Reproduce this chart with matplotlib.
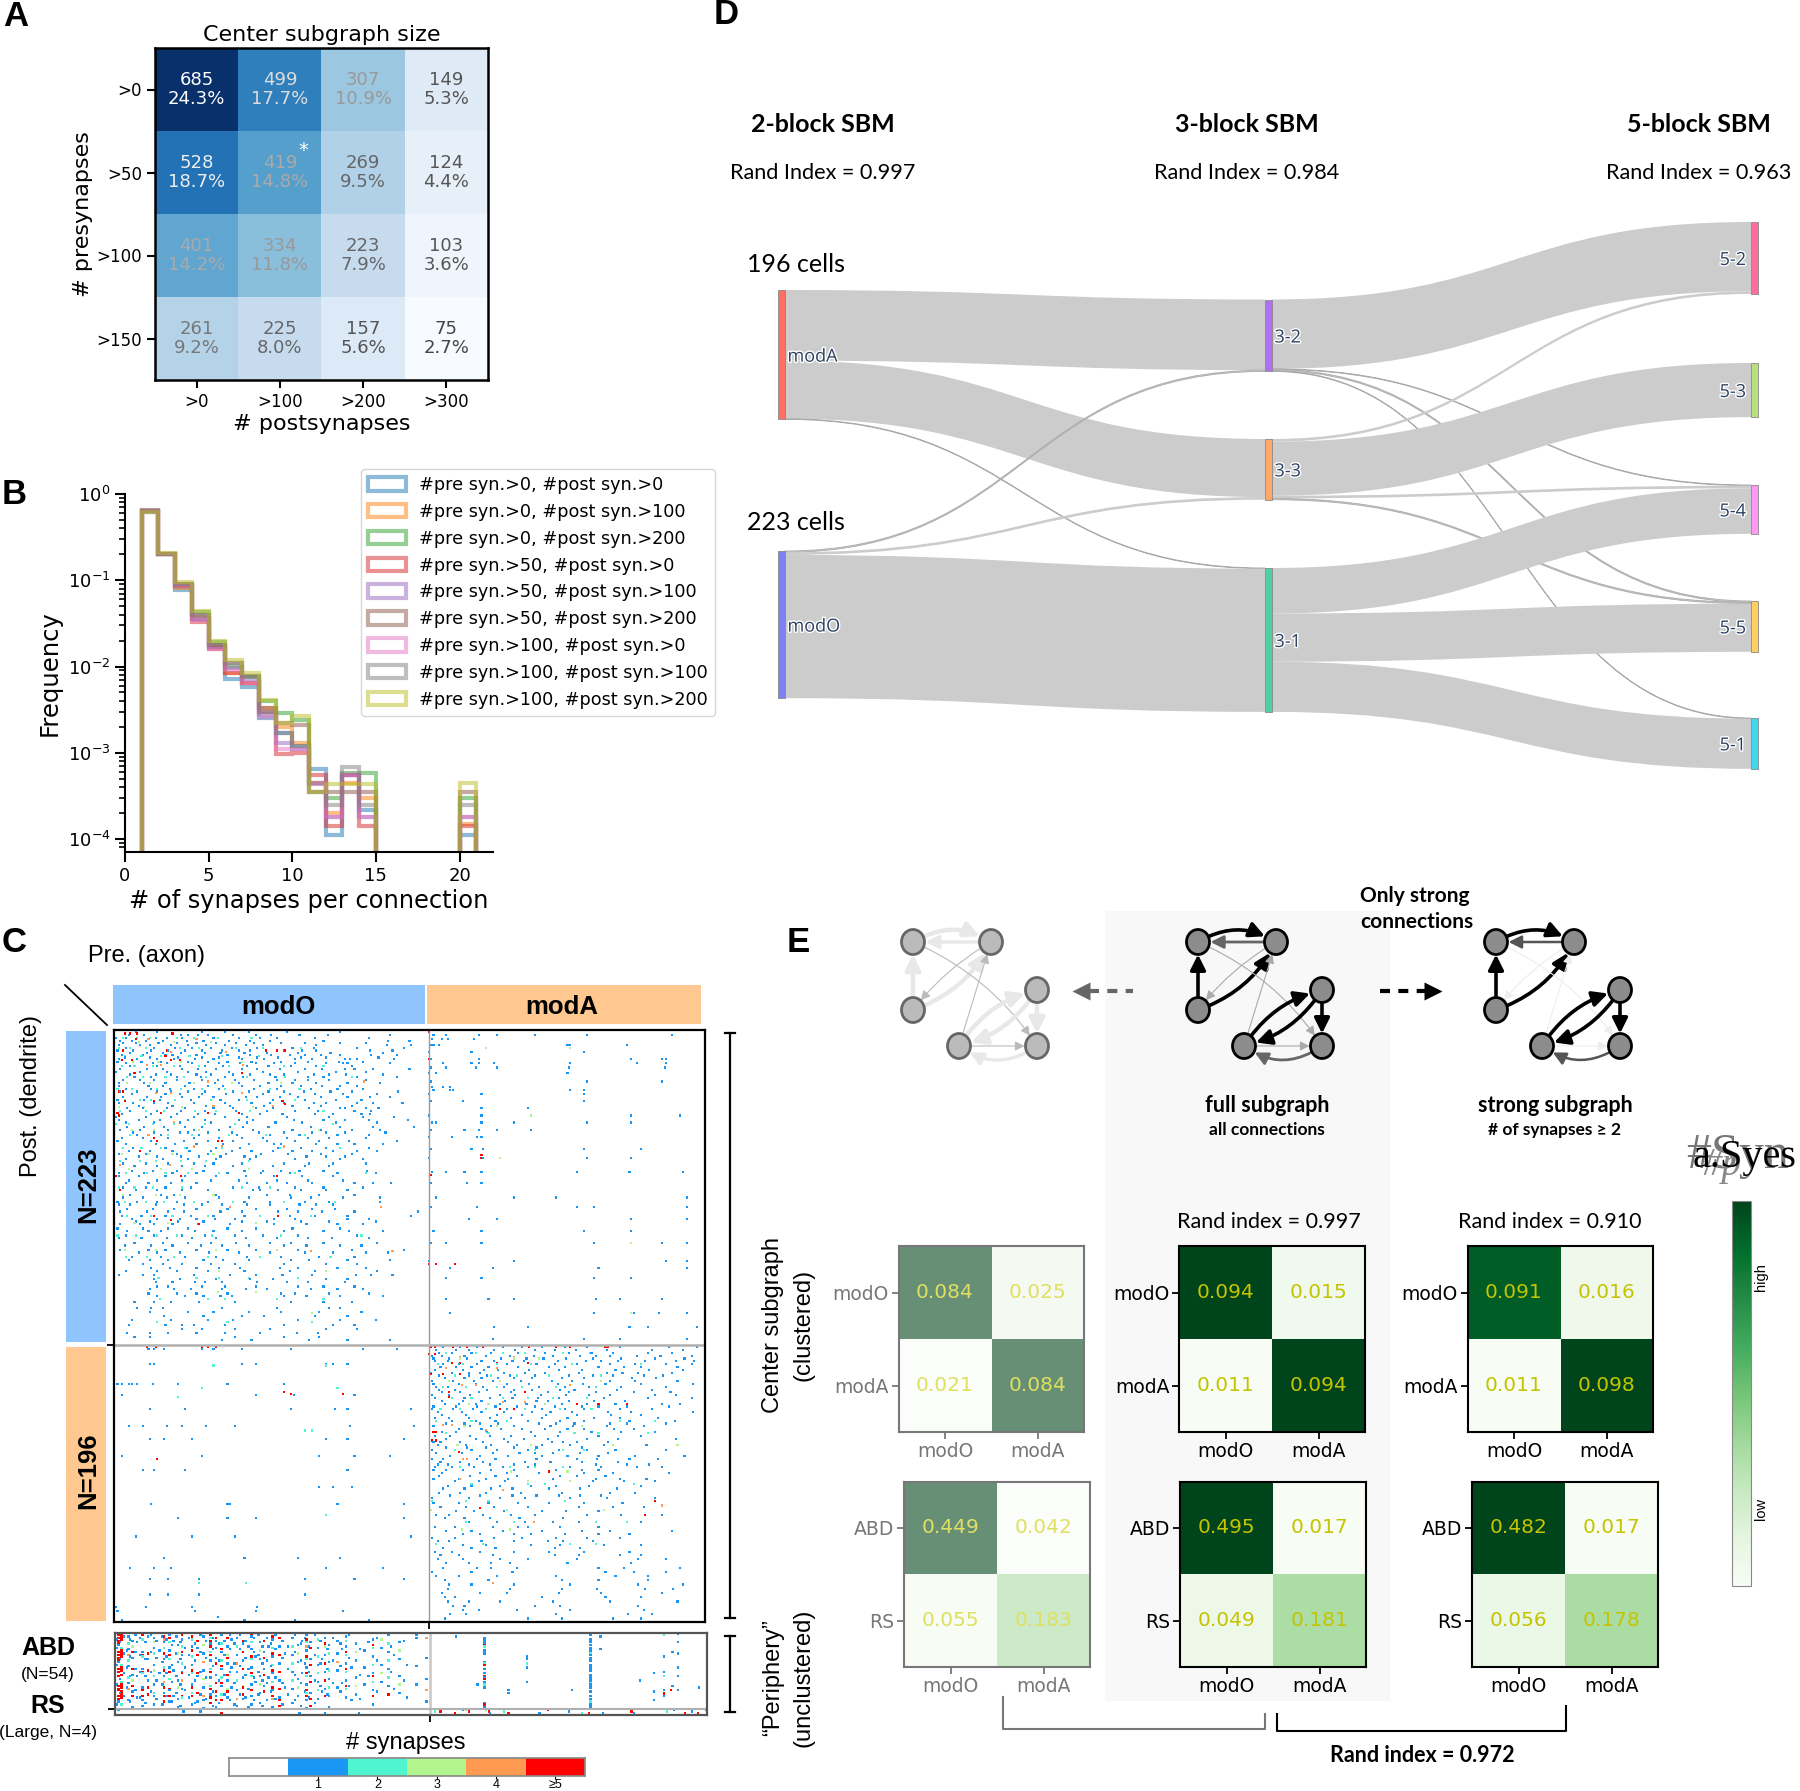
import numpy as np
import matplotlib as mpl
mpl.use('Agg')
import matplotlib.pyplot as plt
import matplotlib.patheffects as pe
from matplotlib.colors import ListedColormap, Normalize
from matplotlib.cm import ScalarMappable
from matplotlib.patches import FancyArrowPatch, Ellipse, PathPatch, Rectangle, Patch
from matplotlib.path import Path

W, H = 1800, 1791
SANS = 'Liberation Sans'
HEAD = 'Lato'

# ---- panel A
A_COUNTS = [[685, 499, 307, 149], [528, 419, 269, 124], [401, 334, 223, 103], [261, 225, 157, 75]]
A_PCT = [['24.3%', '17.7%', '10.9%', '5.3%'], ['18.7%', '14.8%', '9.5%', '4.4%'],
         ['14.2%', '11.8%', '7.9%', '3.6%'], ['9.2%', '8.0%', '5.6%', '2.7%']]
A_POST = ['>0', '>100', '>200', '>300']
A_PRE = ['>0', '>50', '>100', '>150']

# ---- panel B
B_EDGES = list(range(1, 22))
B_LABELS = ['#pre syn.>0, #post syn.>0', '#pre syn.>0, #post syn.>100', '#pre syn.>0, #post syn.>200',
            '#pre syn.>50, #post syn.>0', '#pre syn.>50, #post syn.>100', '#pre syn.>50, #post syn.>200',
            '#pre syn.>100, #post syn.>0', '#pre syn.>100, #post syn.>100', '#pre syn.>100, #post syn.>200']
B_S1 = [.62, .2, .078, .036, .017, .0072, .0058, .0025, .0017, .0012, .00065, .00011, .00055, .00022, 0, 0, 0, 0, 0, .00011]
B_S2 = [.63, .2, .082, .038, .018, .0085, .0065, .0033, .002, .0013, .00045, .0002, .00045, .0003, 0, 0, 0, 0, 0, .00015]
B_S3 = [.64, .2, .085, .043, .019, .01, .0075, .004, .0029, .0024, .00045, .0003, .00058, .00058, 0, 0, 0, 0, 0, .0003]
B_S4 = [.63, .2, .085, .033, .016, .0085, .0065, .003, .00097, .001, .00055, .00014, .00055, .00014, 0, 0, 0, 0, 0, .00014]
B_S5 = [.64, .2, .09, .036, .017, .0095, .007, .0028, .0013, .0011, .00043, .00018, .00055, .00018, 0, 0, 0, 0, 0, .00018]
B_S6 = [.65, .2, .09, .04, .018, .011, .0078, .0033, .0022, .0021, .00035, .00035, .00035, .00035, 0, 0, 0, 0, 0, .00035]
B_S7 = [.63, .2, .085, .035, .016, .009, .0065, .0026, .0011, .0011, .00045, .00018, .00055, .00018, 0, 0, 0, 0, 0, .00018]
B_S8 = [.64, .2, .09, .04, .018, .011, .0078, .003, .0017, .0012, .00035, .00025, .00068, .00025, 0, 0, 0, 0, 0, .00025]
B_S9 = [.62, .205, .095, .044, .02, .012, .0085, .0041, .0022, .0027, .00035, .00043, .00043, .00043, 0, 0, 0, 0, 0, .00045]

# ---- panel C, connections: {row: [cols]}, one dict per synapse count
N_O, N_A = 223, 196
TL_1 = {3: [10, 21, 47, 52, 59, 66, 84, 100, 111, 131, 151, 195], 7: [4, 12, 22, 34, 51, 63, 81, 96, 110, 148, 194, 209],
        10: [3, 18, 25, 40, 52, 65, 78, 93, 105, 143, 193, 210], 14: [2, 13, 26, 38, 50, 62, 76, 88, 96, 120, 133, 143, 181, 197],
        17: [5, 20, 36, 41, 58, 80, 96, 111, 124, 135, 146, 160, 182, 200], 20: [3, 16, 30, 42, 57, 70, 90, 106, 128, 140, 163, 167, 172, 198],
        23: [8, 27, 37, 55, 74, 89, 100, 113, 128, 150, 162, 165, 195], 27: [4, 23, 34, 48, 59, 72, 90, 101, 117, 135, 147, 163, 170, 183, 209],
        31: [11, 29, 40, 58, 68, 84, 96, 110, 120, 141, 152, 164, 190], 35: [6, 18, 28, 44, 62, 73, 85, 99, 115, 128, 137, 152, 178],
        39: [3, 24, 34, 50, 66, 77, 90, 103, 118, 132, 147, 160, 172], 43: [4, 16, 30, 40, 52, 64, 84, 95, 109, 120, 134, 153, 168, 201],
        47: [6, 23, 33, 48, 60, 70, 93, 101, 117, 130, 146, 165, 181, 195], 51: [3, 13, 28, 38, 56, 78, 97, 110, 120, 141, 150, 172, 183, 204],
        55: [9, 20, 37, 50, 70, 84, 100, 112, 138, 160, 163, 178, 187], 59: [5, 26, 44, 59, 71, 90, 103, 119, 142, 155, 175, 181],
        63: [3, 17, 32, 52, 64, 88, 98, 127, 148, 163, 180, 208], 68: [9, 21, 35, 50, 62, 82, 91, 109, 139, 160, 183, 212],
        72: [13, 28, 46, 52, 66, 83, 102, 120, 140, 150, 163, 192], 76: [5, 20, 38, 56, 74, 90, 105, 122, 137, 152, 178],
        80: [8, 29, 43, 58, 77, 95, 113, 118, 143, 158, 170, 190], 85: [10, 25, 41, 53, 68, 83, 97, 112, 126, 140, 155, 172, 186],
        89: [17, 30, 47, 60, 75, 92, 100, 136, 150, 163], 94: [6, 22, 38, 56, 70, 90, 120, 138, 155, 178],
        99: [12, 27, 44, 63, 92, 105, 118, 131, 148, 179], 103: [3, 17, 36, 50, 72, 93, 113, 133, 155],
        108: [8, 24, 40, 58, 94, 108, 122, 140, 170, 183, 196], 113: [15, 30, 48, 66, 98, 103, 116, 132, 150, 165],
        118: [6, 20, 37, 50, 74, 95, 125, 139, 162, 188], 123: [3, 11, 29, 49, 62, 76, 94, 110, 131, 143, 155],
        128: [4, 23, 38, 49, 75, 90, 116, 130, 147, 170, 215], 133: [12, 30, 46, 58, 71, 85, 113, 128, 165, 180],
        137: [4, 18, 28, 41, 59, 82, 113, 136, 158, 176], 142: [9, 24, 33, 57, 70, 90, 120, 148, 166, 190],
        147: [3, 19, 37, 55, 72, 93, 115, 137, 154, 180], 152: [7, 26, 41, 61, 76, 95, 120, 136, 160, 175],
        157: [17, 30, 46, 67, 88, 110, 135, 155, 178, 194], 162: [10, 25, 38, 63, 77, 95, 125, 138, 165, 195],
        168: [26, 39, 58, 74, 89, 117, 130, 158, 178], 173: [3, 20, 28, 56, 82, 100, 119, 140, 171, 182, 197],
        178: [29, 41, 57, 64, 76, 101, 122, 137, 163], 183: [25, 42, 54, 76, 93, 108, 139, 158, 176],
        188: [30, 50, 63, 75, 83, 120, 136, 160, 190], 196: [16, 26, 34, 76, 115, 152, 160], 202: [35, 63, 90, 106, 142, 165],
        208: [10, 36, 48, 56, 78, 120, 155, 170], 214: [9, 25, 38, 58, 78, 103, 129, 144], 219: [76, 97, 138, 165, 195]}
TL_1X = {1: [15, 30, 62, 78, 95, 122, 160], 5: [1, 8, 29, 37, 48, 70, 88, 103, 115, 142, 180], 9: [6, 15, 31, 44, 58, 72, 86, 99, 118, 135, 160, 178],
         12: [8, 28, 43, 55, 68, 83, 101, 126, 141, 172, 205], 16: [11, 23, 34, 47, 64, 75, 92, 108, 130, 153, 190], 19: [7, 25, 45, 62, 74, 88, 101, 116, 132, 150, 187],
         22: [2, 19, 33, 52, 66, 80, 97, 118, 137, 159, 176], 25: [11, 30, 46, 64, 77, 94, 109, 125, 143, 168], 29: [1, 18, 37, 52, 65, 81, 105, 130, 157, 178],
         33: [14, 26, 44, 61, 78, 91, 114, 137, 148, 172, 200], 37: [3, 21, 36, 53, 71, 88, 109, 126, 143, 165, 188], 41: [8, 26, 39, 56, 74, 99, 115, 139, 158, 176],
         45: [12, 36, 46, 62, 79, 105, 124, 142, 162, 186], 49: [2, 21, 32, 54, 75, 88, 112, 135, 157, 175], 53: [17, 41, 65, 82, 106, 126, 146, 168],
         57: [11, 30, 47, 64, 86, 108, 128, 144, 170, 182], 61: [1, 22, 40, 56, 78, 94, 122, 152, 176, 198], 65: [8, 28, 46, 68, 94, 114, 133, 157, 186],
         70: [4, 18, 38, 56, 74, 98, 126, 146, 168, 188], 74: [16, 33, 60, 87, 110, 131, 158, 180], 78: [2, 26, 49, 66, 84, 108, 128, 145, 166, 200],
         83: [13, 36, 51, 72, 89, 116, 132, 150, 180], 87: [3, 22, 44, 66, 79, 104, 123, 146, 168], 91: [8, 34, 52, 72, 96, 128, 160, 176],
         96: [14, 30, 48, 64, 84, 112, 135, 152], 101: [3, 21, 41, 58, 80, 104, 124, 158, 185], 106: [10, 30, 48, 68, 88, 115, 137, 162],
         111: [6, 22, 36, 54, 84, 102, 128, 148, 176], 116: [11, 33, 42, 72, 108, 124, 145, 170], 121: [2, 16, 30, 44, 66, 92, 110, 135, 152, 188],
         126: [9, 27, 42, 58, 80, 100, 122, 140, 156], 131: [5, 19, 36, 54, 70, 92, 124, 142, 165, 210], 135: [15, 25, 45, 63, 90, 108, 132, 152, 185],
         140: [2, 20, 38, 52, 80, 100, 126, 160], 145: [8, 28, 48, 64, 85, 105, 130, 172], 150: [14, 34, 52, 68, 86, 110, 125, 148, 186],
         155: [4, 24, 36, 58, 80, 100, 130, 168, 205], 160: [12, 33, 50, 72, 94, 118, 145, 170], 165: [20, 34, 48, 68, 85, 120, 150, 172],
         170: [8, 30, 44, 66, 92, 124, 142, 186], 176: [28, 46, 72, 96, 112, 150, 165], 181: [30, 38, 62, 78, 100, 130, 148, 170],
         186: [24, 44, 58, 80, 118, 128, 152, 180], 192: [14, 28, 40, 60, 85, 125, 148, 168], 199: [25, 52, 70, 95, 118, 145, 175],
         205: [12, 40, 66, 84, 130, 160, 185], 211: [48, 62, 85, 110, 150, 172], 217: [14, 25, 85, 120, 145]}
TL_2 = {5: [6, 16, 25, 44, 56, 73, 97], 12: [3, 11, 22, 46, 60, 86, 105, 132], 18: [7, 19, 33, 53, 76, 102],
        25: [5, 14, 27, 42, 60, 81, 120, 148], 33: [9, 20, 36, 49, 65, 94, 121, 168], 41: [2, 12, 30, 47, 62, 78, 110, 131],
        49: [7, 18, 26, 43, 68, 94, 128], 57: [4, 22, 35, 57, 72, 96, 148], 66: [1, 10, 27, 42, 64, 85, 155],
        74: [11, 24, 38, 55, 81, 107, 135], 83: [6, 19, 33, 50, 76, 117, 160], 92: [4, 18, 29, 47, 65, 95],
        101: [8, 23, 36, 52, 74, 128, 178], 111: [3, 14, 27, 48, 90, 110], 121: [7, 22, 35, 56, 84, 120, 156],
        131: [9, 26, 41, 66, 103, 139], 145: [2, 15, 30, 44, 69, 118, 175], 160: [8, 23, 42, 66, 103, 153],
        175: [31, 58, 74, 95, 130], 190: [32, 66, 78, 115, 148], 206: [30, 80, 140]}
TL_3 = {8: [17, 42, 68], 22: [13, 31, 47, 90], 37: [9, 25, 56, 83, 118], 54: [3, 21, 48, 98], 70: [12, 28, 60, 145],
        87: [5, 24, 41, 70], 98: [10, 33, 55, 95], 116: [6, 29, 46, 70], 136: [14, 38, 100], 155: [7, 29, 72, 115],
        170: [74, 150], 185: [73, 100], 200: [140]}
TL_4 = {6: [24, 58], 15: [40, 79], 24: [23, 33, 91], 36: [66, 177], 44: [29, 40, 90], 53: [70, 112], 65: [42], 74: [24],
        82: [56, 76, 120], 95: [4, 39], 125: [82, 189], 156: [139, 197]}
TL_5 = {2: [7, 11, 16, 41], 6: [15], 14: [6, 37, 107, 115, 121], 18: [36], 21: [5, 12, 40, 46], 30: [14, 90], 43: [3, 6],
        50: [7, 28, 119], 52: [121], 58: [2, 33, 66, 88], 60: [3], 76: [28], 78: [30, 73, 76], 85: [18], 103: [1, 47, 115],
        113: [4], 131: [28, 116], 134: [40], 137: [60]}
TR_1 = {3: [3, 12, 35, 48, 75, 112, 172], 6: [2, 9, 13, 32], 10: [1, 3, 7, 98, 100, 140], 15: [0, 30, 110], 20: [1, 35, 143, 165, 168],
        23: [10, 30, 35, 46, 100, 147, 168], 26: [1, 12, 33, 48, 99, 167], 30: [0, 5, 98], 36: [1, 112, 165], 40: [2, 10, 15],
        42: [3, 15, 17, 100, 110], 45: [0, 37, 110], 50: [1, 24, 110], 55: [37, 70], 60: [0, 37, 143, 178], 65: [2, 5, 37, 60, 112, 143],
        70: [1, 25, 35, 48, 72], 75: [0, 16, 34, 37], 84: [1, 30, 38, 110, 150], 90: [0, 38, 112, 143], 100: [2, 12, 25, 37, 105, 142, 180],
        108: [1, 27, 37], 118: [5, 60, 90, 183], 125: [1, 34, 105, 117, 183], 133: [28, 48, 143, 183], 142: [3, 37, 110, 143],
        150: [1, 12, 37, 117, 143, 165, 183], 163: [0, 60, 168, 183], 168: [15, 45, 120, 183], 175: [12, 37, 117, 143], 190: [12, 42, 60, 118, 135, 165],
        200: [15, 117, 145, 163, 183], 210: [46, 70, 142, 155, 190], 218: [45, 110, 135, 183]}
TR_3 = {12: [40, 100], 60: [72], 90: [50], 150: [143], 200: [143]}
TR_5 = {1: [0], 20: [0], 88: [37], 90: [37], 165: [0, 18, 5], 102: [1]}
BL_1 = {2: [24, 28, 35, 62, 70, 90, 125, 176, 200], 13: [25, 28, 90, 100, 150, 165, 155], 27: [2, 5, 10, 12, 16, 27, 45, 80, 120], 35: [5, 100, 127, 170],
        45: [25, 50, 125, 156, 165, 210], 57: [10, 20, 37, 48, 65, 85, 167, 212], 66: [25, 35, 55, 150, 165, 205], 78: [5, 62, 145, 170, 195],
        88: [20, 28, 50, 165], 100: [145, 155, 168], 112: [26, 80, 82, 158, 205], 122: [45, 80, 100, 205], 135: [15, 55, 85, 210], 150: [35, 92, 130, 160],
        157: [11, 28, 40, 150, 190], 165: [25, 38, 60, 135, 170, 205], 176: [25, 38, 60, 135], 185: [1, 22, 55, 101], 188: [2, 57, 100, 162], 194: [5, 92, 128, 180], 192: [73]}
BL_2 = {14: [70, 150], 30: [62, 158], 36: [45], 60: [135, 140], 120: [150], 168: [60, 93]}
BL_5 = {1: [23, 29, 62, 66, 72], 33: [120], 34: [125, 162], 80: [30]}
BR_1 = {3: [5, 19, 28, 46, 61, 75, 89, 104, 126, 158, 180], 7: [2, 9, 25, 40, 57, 74, 88, 107, 118, 128, 147, 164, 186],
        11: [4, 13, 37, 46, 59, 67, 91, 111, 122, 134, 153, 175, 188], 15: [8, 19, 30, 42, 63, 85, 96, 120, 138, 150, 176],
        19: [1, 16, 28, 36, 53, 68, 82, 106, 126, 137, 148, 172], 23: [11, 25, 37, 49, 60, 73, 94, 110, 144, 161],
        27: [3, 21, 33, 55, 71, 91, 109, 125, 150, 187], 31: [7, 18, 41, 60, 73, 93, 103, 133, 158],
        35: [2, 14, 29, 50, 61, 79, 97, 113, 128, 160, 175], 39: [9, 24, 37, 54, 76, 84, 99, 117, 139],
        43: [3, 19, 34, 47, 62, 75, 89, 108, 120, 140, 170], 47: [6, 23, 37, 53, 73, 86, 101, 127, 143, 187],
        51: [4, 14, 28, 43, 58, 80, 98, 117, 135, 162], 55: [12, 25, 36, 49, 78, 90, 103, 128, 140, 168],
        59: [21, 37, 51, 66, 82, 98, 110, 131, 145], 64: [4, 15, 29, 43, 58, 75, 91, 120, 150], 68: [3, 8, 22, 38, 56, 87, 95, 105, 127],
        72: [12, 27, 40, 60, 76, 108], 76: [5, 23, 45, 64, 75, 88, 107, 127], 80: [2, 10, 34, 47, 76, 105, 119, 142, 162],
        84: [6, 13, 28, 43, 60, 75, 118, 140, 156], 88: [3, 12, 24, 44, 60, 90, 108, 120], 92: [7, 29, 47, 62, 93, 105, 125],
        96: [18, 35, 54, 70, 100, 116, 138, 160], 101: [10, 25, 44, 59, 85, 107, 133], 106: [15, 36, 59, 76, 92, 107, 122],
        111: [3, 21, 42, 63, 85, 110, 137], 117: [19, 32, 53, 80, 97, 120], 122: [11, 25, 43, 64, 95], 128: [4, 18, 45, 63, 70, 93, 120],
        133: [24, 36, 60, 72, 96, 120, 142], 138: [6, 14, 37, 60, 84, 95, 116], 143: [10, 30, 47, 89, 107], 148: [8, 21, 45, 89, 106, 135, 150],
        154: [12, 28, 44, 57, 98, 143], 160: [2, 30, 59, 125, 145, 168], 166: [11, 42, 94, 120, 155], 172: [13, 57, 94, 119, 153, 173],
        178: [11, 18, 80, 125, 150], 184: [17, 25, 75, 93, 148], 190: [15, 26, 90, 141, 158]}
BR_1X = {1: [10, 22, 34, 52, 66, 80, 96, 112, 135, 170, 190], 5: [7, 16, 30, 44, 63, 82, 99, 115, 130, 155, 172], 9: [3, 14, 27, 51, 69, 81, 97, 116, 136, 160, 181],
         13: [10, 21, 34, 55, 76, 89, 105, 128, 146, 168, 186], 17: [4, 24, 39, 49, 71, 92, 108, 132, 156, 180], 21: [7, 28, 41, 57, 75, 99, 116, 130, 152, 166],
         25: [2, 17, 32, 45, 65, 87, 101, 128, 146, 176], 29: [5, 13, 38, 53, 78, 96, 113, 136, 168], 33: [9, 22, 35, 58, 84, 99, 118, 145, 171],
         37: [4, 25, 43, 59, 77, 92, 124, 155, 186], 41: [11, 21, 33, 50, 69, 94, 112, 132, 165, 178], 45: [2, 17, 31, 55, 80, 96, 110, 135, 158],
         49: [9, 26, 48, 66, 83, 105, 129, 150], 53: [16, 33, 47, 70, 93, 110, 142, 174], 57: [3, 29, 44, 60, 86, 102, 126, 152], 61: [9, 19, 41, 72, 93, 115, 136, 160],
         66: [12, 33, 53, 67, 84, 112, 134, 175], 70: [6, 26, 44, 62, 80, 100, 124, 154], 74: [2, 30, 48, 70, 92, 112, 132, 168], 78: [15, 36, 56, 80, 98, 120, 146, 181],
         82: [8, 22, 38, 68, 86, 108, 134], 86: [4, 16, 32, 52, 70, 100, 122, 147, 165], 90: [9, 36, 55, 78, 110, 130, 170], 94: [3, 21, 40, 56, 88, 118, 135, 154],
         99: [13, 30, 50, 72, 90, 113, 150], 104: [7, 22, 40, 65, 94, 128, 146], 108: [2, 28, 50, 68, 100, 126, 160], 114: [8, 26, 46, 70, 106, 130, 152],
         120: [5, 14, 38, 58, 75, 112, 136, 165], 125: [28, 48, 68, 88, 106, 150], 131: [12, 30, 52, 80, 108, 128, 172], 136: [2, 18, 46, 66, 90, 112, 135],
         141: [24, 40, 72, 93, 124, 150], 146: [4, 16, 36, 60, 85, 110, 142], 151: [6, 24, 50, 70, 105, 148, 168], 157: [10, 34, 44, 62, 120, 138, 178],
         163: [5, 21, 48, 90, 132, 155], 169: [14, 30, 60, 100, 148, 180], 175: [9, 36, 55, 92, 122, 165], 181: [13, 28, 50, 88, 128, 176], 187: [24, 35, 62, 100, 152], 193: [11, 70, 94, 130, 150]}
BR_2 = {5: [12, 33, 52, 68, 95, 114], 13: [6, 24, 48, 72, 101, 150], 21: [18, 44, 62, 85, 122], 29: [10, 26, 48, 66, 90, 118],
        37: [16, 30, 52, 70, 88, 112], 45: [8, 22, 40, 68, 93, 115], 53: [5, 30, 55, 135, 160], 62: [12, 42, 103, 120, 155],
        74: [18, 75, 95, 110], 86: [22, 57, 75, 95], 98: [30, 70, 82, 145], 110: [2, 26, 42, 96], 125: [26, 60, 118, 140], 140: [5, 38, 100, 118]}
BR_3 = {9: [22, 60, 78], 25: [14, 50, 122], 41: [28, 42, 82], 57: [25, 48, 108], 70: [20, 72, 130, 176], 89: [58, 98], 96: [70, 100], 116: [1, 55, 124], 130: [23, 57]}
BR_4 = {8: [22, 60], 16: [12, 48], 28: [23, 33, 100], 40: [52, 68], 56: [10, 16], 60: [40], 80: [24, 27], 94: [22], 102: [52], 113: [165], 125: [74], 168: [45]}
BR_5 = {1: [1, 4, 17, 27, 38, 71, 90, 100, 125, 127], 6: [0, 4], 12: [16, 22, 48, 70], 20: [1, 10, 22], 33: [14, 68], 36: [14], 41: [105, 120, 140], 45: [50, 60],
        61: [3, 5], 67: [2, 5], 75: [21], 89: [85], 110: [160], 115: [36], 120: [153]}

# periphery, {col: [rows]} since this block shows as columns
PERI_1 = {2: [8, 20, 48], 9: [2, 11, 23, 35, 47], 12: [5, 17, 29, 41, 52], 19: [13, 25, 38, 47, 51], 27: [3, 10, 22, 36, 44, 50], 34: [6, 18, 30, 42],
          38: [1, 12, 24, 40, 48], 44: [8, 20, 33, 46, 52], 47: [4, 15, 27, 39], 54: [9, 22, 36, 50], 62: [2, 14, 26, 38, 47, 53], 67: [7, 19, 31, 43],
          71: [5, 10, 17, 29, 44, 52], 75: [1, 13, 25, 37], 79: [9, 21, 33, 45], 86: [3, 15, 27, 40, 51], 90: [7, 19, 31, 46], 96: [2, 11, 24, 36, 44, 50],
          102: [6, 18, 30, 42, 49], 105: [13, 25, 37], 111: [4, 16, 28, 40, 52], 116: [9, 21, 33, 45], 125: [3, 15, 27, 39, 49], 129: [8, 20, 32, 44],
          135: [1, 12, 24, 36, 47, 53], 138: [6, 18, 30, 42], 143: [10, 22, 34, 46], 148: [3, 15, 27, 39], 151: [8, 20, 32, 44, 52], 157: [5, 14, 26, 38],
          163: [2, 9, 21, 33, 45], 170: [7, 19, 31, 43], 176: [12, 24, 36], 182: [4, 16, 28, 40, 50], 188: [10, 22, 34], 193: [1, 13, 25, 37], 201: [6, 18, 30, 42],
          213: [1, 3, 23, 36], 220: [17, 32, 48], 15: [6, 30, 45], 23: [2, 18, 33], 31: [12, 28], 41: [5, 26, 44], 58: [10, 30, 48], 82: [4, 24, 38], 99: [16, 34],
          108: [9, 31], 120: [14, 38], 132: [5, 28], 146: [18, 41], 160: [11, 35], 167: [24, 47], 179: [6, 30], 197: [15, 39], 206: [22, 45]}
PERI_1X = {1: [4, 10, 22, 36, 50], 3: [6, 18, 32, 42], 6: [2, 14, 28, 44], 8: [12, 24, 38], 10: [4, 16, 30, 48], 14: [1, 13, 25, 40], 17: [3, 15, 27, 45], 21: [6, 18, 30, 49],
           25: [1, 13, 27, 41], 29: [5, 17, 33, 46], 33: [2, 20, 36, 50], 36: [4, 16, 28, 44], 40: [8, 22, 34, 48], 43: [2, 14, 30, 42], 46: [6, 18, 36, 51], 49: [10, 24, 40],
           52: [3, 15, 29, 45], 56: [7, 19, 33, 49], 60: [1, 13, 27, 43], 64: [5, 17, 31, 46], 69: [3, 11, 23, 41, 51], 73: [7, 19, 33, 49], 77: [5, 15, 29, 43], 81: [1, 11, 27, 47],
           84: [7, 21, 35, 50], 88: [1, 11, 23, 43], 92: [5, 17, 29, 45], 94: [9, 25, 39, 52], 98: [3, 13, 31, 47], 101: [1, 15, 27, 43], 104: [9, 21, 33, 51], 107: [3, 19, 35, 47],
           110: [7, 23, 41], 113: [1, 11, 31, 46], 118: [5, 17, 35, 50], 122: [9, 25, 43], 127: [1, 13, 29, 47], 131: [7, 19, 35, 51], 134: [3, 21, 41], 137: [9, 27, 45],
           141: [1, 15, 33, 49], 145: [5, 21, 37], 150: [11, 25, 43], 154: [3, 19, 35], 159: [7, 23, 41], 165: [1, 17, 37], 173: [11, 29, 46], 185: [3, 19, 41], 195: [9, 27], 204: [5, 33]}
PERI_2 = {4: [10, 22, 34, 50], 9: [7, 19, 31], 19: [4, 16, 28], 27: [14, 30, 42], 34: [10, 24, 37], 38: [6, 18, 32], 47: [9, 21, 45], 54: [4, 16, 28, 42],
          67: [3, 13, 25, 37], 75: [7, 19, 31, 43], 86: [9, 21, 33], 96: [6, 18, 30], 111: [10, 22, 34], 125: [9, 21, 33], 135: [6, 18, 30, 42],
          143: [4, 16, 28, 40], 151: [14, 26, 38], 163: [5, 15, 27, 39], 182: [10, 22, 34], 193: [7, 19, 31]}
PERI_3 = {12: [9, 33], 27: [6, 26], 44: [14, 38], 62: [8, 32], 79: [15, 39], 90: [13, 37], 102: [12, 36], 129: [14, 38], 148: [9, 33], 170: [13, 37], 188: [4, 28], 201: [12, 36]}
PERI_4 = {9: [15, 39], 34: [4, 34], 47: [33], 62: [20, 44], 86: [21, 46], 111: [46], 135: [9], 157: [20], 220: [3, 40]}
PERI_5 = {2: [1, 3, 5, 7, 13, 15, 17, 19, 25, 27, 30, 37, 39, 40, 44, 46], 4: [0, 2, 4, 12, 14, 16, 24, 26, 29, 36, 38, 41, 43, 45],
          12: [13, 25, 37, 44], 19: [1, 15, 27, 40, 44], 23: [14, 26, 38, 43], 34: [2, 14, 26, 38, 44, 48], 38: [3, 15, 27, 39, 44], 47: [1, 13, 28, 44],
          54: [2, 12, 26, 38, 44], 58: [5, 15, 28, 42], 67: [1, 5, 9, 15, 27, 39, 45, 49], 71: [3, 21, 35, 41, 47], 75: [11, 23, 35, 47], 79: [3, 17, 29, 41],
          90: [5, 13, 25, 38, 43], 96: [0, 16, 28, 40], 105: [5, 17, 29, 41], 111: [2, 14, 26, 38, 44], 116: [3, 15, 27, 39, 47, 51], 135: [4, 16, 28, 40, 44],
          138: [10, 22, 34, 46, 51], 148: [7, 21, 33, 44], 163: [13, 25, 37], 182: [8, 30, 44], 193: [43]}
PR_1 = {38: [3, 4, 6, 7, 12, 14, 20, 25, 28, 31, 34, 38, 49, 52], 113: [1, 4, 6, 8, 10, 12, 15, 17, 19, 22, 24, 26, 29, 31, 33, 36, 38, 41, 44, 46, 50, 52],
        18: [2], 68: [16, 18, 24, 34], 33: [36], 55: [40, 42], 100: [40], 120: [2, 11], 148: [33], 158: [28, 41, 47], 165: [16, 27, 40, 44], 175: [0, 6, 14, 24, 30, 40], 171: [13, 37],
        190: [38]}
PR_2 = {38: [9, 21, 36], 113: [14, 35, 48], 68: [21], 165: [1, 30]}
PR_5 = {38: [8, 22, 30, 32, 50], 170: [40], 165: [42, 43]}
RS_1 = {2: [54], 48: [55], 60: [55], 130: [56], 148: [56], 172: [56], 246: [54], 265: [56], 300: [56], 321: [55], 345: [56], 367: [56], 395: [54], 408: [55], 418: [54]}
RS_5 = {75: [56], 230: [55], 240: [56], 250: [55], 264: [55], 278: [56], 306: [54], 335: [56], 365: [55], 403: [56], 412: [56]}
RS_2 = {226: [55], 248: [54], 262: [54], 275: [55], 330: [56], 390: [55]}

# ---- panel D
NODE_NAMES = ['modA', 'modO', '3-2', '3-3', '3-1', '5-2', '5-3', '5-4', '5-5', '5-1']
NODE_COLORS = ['#ff7060', '#8080f5', '#b070f0', '#ffa868', '#50d0a0', '#ff6e9a', '#b8e080', '#ff99f5', '#ffd060', '#40d8f0']
LINK_SRC = [0, 0, 0, 1, 1, 1, 2, 2, 2, 2, 3, 3, 3, 3, 4, 4, 4]
LINK_TGT = [2, 3, 4, 2, 3, 4, 5, 7, 8, 9, 5, 6, 7, 8, 7, 8, 9]
LINK_VAL = [107, 88, 1, 2, 4, 217, 105, 1, 2, 1, 4, 82, 4, 2, 69, 73, 76]

# ---- panel E
CONF_TOP = [[[.084, .025], [.021, .084]], [[.094, .015], [.011, .094]], [[.091, .016], [.011, .098]]]
CONF_BOT = [[[.449, .042], [.055, .183]], [[.495, .017], [.049, .181]], [[.482, .017], [.056, .178]]]
COL_LABELS = ['modO', 'modA']
ROW_TOP = ['modO', 'modA']
ROW_BOT = ['ABD', 'RS']
# graph edges: from, to, curvature, kind (s strong, m medium, t thin)
EDGES = [(0, 1, -.3, 's'), (1, 0, 0, 'm'), (2, 0, 0, 's'), (2, 1, .2, 's'), (1, 2, .1, 't'), (0, 5, -.15, 't'), (4, 1, 0, 't'),
         (4, 3, -.2, 's'), (3, 4, -.2, 's'), (3, 5, 0, 's'), (4, 5, 0, 't'), (5, 4, -.35, 'm')]

plt.rcParams['font.family'] = 'DejaVu Sans'
fig = plt.figure(figsize=(W / 100, H / 100), dpi=100)
px = fig.add_axes([0, 0, 1, 1], zorder=0)
px.set_xlim(0, W)
px.set_ylim(H, 0)
px.axis('off')


def ax_px(x0, y0, x1, y1):
    return fig.add_axes([x0 / W, 1 - y1 / H, (x1 - x0) / W, (y1 - y0) / H], zorder=1)


def label(x, y, s, size=17, family=SANS, weight='normal', color='black', ha='center', rot=0, **kw):
    return px.text(x, y, s, fontsize=size, family=family, weight=weight, color=color, ha=ha, va='center', rotation=rot, **kw)


for s, x, y in [('A', 16, 16), ('B', 14, 494), ('C', 14, 942), ('D', 726, 14), ('E', 798, 942)]:
    label(x, y, s, size=25, weight='bold')

# A
ax = ax_px(155, 48, 488, 380)
ax.imshow(A_COUNTS, cmap='Blues', aspect='auto')
a_colors = [['white', '#dddddd', '#999999', '#555555'], ['#eeeeee', '#aaaaaa', '#666666', '#555555'],
            ['#aaaaaa', '#999999', '#666666', '#555555'], ['#777777', '#666666', '#555555', '#444444']]
for i in range(4):
    for j in range(4):
        ax.text(j, i, '%d\n%s' % (A_COUNTS[i][j], A_PCT[i][j]), ha='center', va='center', fontsize=13,
                color=a_colors[i][j], linespacing=1.1)
ax.text(1.28, 0.73, '*', ha='center', va='center', fontsize=14, color='white')
ax.set_xticks(range(4), A_POST, fontsize=12)
ax.set_yticks(range(4), A_PRE, fontsize=12)
ax.tick_params(length=6, width=1.5)
for sp in ax.spines.values():
    sp.set_linewidth(1.8)
ax.set_xlabel('# postsynapses', fontsize=16, labelpad=2)
ax.set_ylabel('# presynapses', fontsize=16, labelpad=2)
ax.set_title('Center subgraph size', fontsize=16, pad=5)

# B
ax = ax_px(125, 494, 493, 852)
series = [B_S1, B_S2, B_S3, B_S4, B_S5, B_S6, B_S7, B_S8, B_S9]
handles = []
for i, vals in enumerate(series):
    vals = np.array(vals)
    vals = np.where(vals > 0, vals, 1e-7)
    ax.stairs(vals, B_EDGES, baseline=1e-7, color='C%d' % i, alpha=0.5, lw=3)
    handles.append(Patch(fc='none', ec='C%d' % i, alpha=0.5, lw=3, label=B_LABELS[i]))
ax.set_yscale('log')
ax.set_xlim(0, 22)
ax.set_ylim(10 ** -4.15, 1)
ax.set_xticks([0, 5, 10, 15, 20])
ax.tick_params(labelsize=13, width=1.5, length=7)
ax.tick_params(which='minor', width=1.2, length=4)
ax.spines[['top', 'right']].set_visible(False)
for sp in ax.spines.values():
    sp.set_linewidth(1.5)
ax.set_xlabel('# of synapses per connection', fontsize=17.4, labelpad=3)
ax.set_ylabel('Frequency', fontsize=17.5, labelpad=4)
fig.legend(handles=handles, loc='upper left', bbox_to_anchor=(361 / W, 1 - 469 / H), borderaxespad=0, fontsize=12.7,
           handlelength=2.15, handleheight=0.8, labelspacing=0.5, handletextpad=0.75, borderpad=0.4)

# C
syn_cmap = ListedColormap(['#ffffff', '#1a96f5', '#4ff5ce', '#b2f48e', '#ff9a50', '#ff0000'])


def fill(mat, conn, val, r0=0, c0=0, by_col=False):
    for key, others in conn.items():
        for other in others:
            r, c = (other, key) if by_col else (key, other)
            mat[r + r0, c + c0] = val


def draw_conn(ax, mat, size):
    rows, cols = np.nonzero(mat)
    ax.scatter(cols, rows, c=mat[rows, cols], cmap=syn_cmap, vmin=-.5, vmax=5.5, marker='s', s=size, linewidths=0)
    ax.set_xlim(-.5, mat.shape[1] - .5)
    ax.set_ylim(mat.shape[0] - .5, -.5)


center = np.zeros((N_O + N_A, N_O + N_A))
for val, conn in [(1, TL_1), (1, TL_1X), (2, TL_2), (3, TL_3), (4, TL_4), (5, TL_5)]:
    fill(center, conn, val)
for val, conn in [(1, TR_1), (3, TR_3), (5, TR_5)]:
    fill(center, conn, val, 0, N_O)
for val, conn in [(1, BL_1), (2, BL_2), (5, BL_5)]:
    fill(center, conn, val, N_O, 0)
for val, conn in [(1, BR_1), (1, BR_1X), (2, BR_2), (3, BR_3), (4, BR_4), (5, BR_5)]:
    fill(center, conn, val, N_O, N_O)

peri = np.zeros((58, N_O + N_A))
for val, conn in [(1, PERI_1), (1, PERI_1X), (2, PERI_2), (3, PERI_3), (4, PERI_4), (5, PERI_5)]:
    fill(peri, conn, val, by_col=True)
for val, conn in [(1, PR_1), (2, PR_2), (5, PR_5)]:
    fill(peri, conn, val, 0, N_O, by_col=True)
for val, conn in [(1, RS_1), (2, RS_2), (5, RS_5)]:
    fill(peri, conn, val, by_col=True)

ax = ax_px(114, 1030, 705, 1622)
draw_conn(ax, center, 2.4)
ax.axvline(N_O - .5, color='#999999', lw=1)
ax.axhline(N_O - .5, color='#b0b0b0', lw=1.8)
ax.set_xticks([N_O - .5], [''])
ax.set_yticks([N_O - .5], [''])
ax.tick_params(length=5, width=1.3)
for sp in ax.spines.values():
    sp.set_linewidth(1.6)

ax = ax_px(115, 1633, 707, 1715)
draw_conn(ax, peri, 3)
ax.axvline(N_O - .5, color='#cccccc', lw=2)
ax.axhline(53.5, color='#b0b0b0', lw=1.5)
ax.set_xticks([N_O - .5], [''])
ax.set_yticks([53.5], [''])
ax.tick_params(length=5, width=1.3)
for sp in ax.spines.values():
    sp.set_linewidth(1.6)
    sp.set_color('#555555')

ax = ax_px(229, 1758, 585, 1776)
ax.imshow([[0, 1, 2, 3, 4, 5]], cmap=syn_cmap, vmin=-.5, vmax=5.5, aspect='auto')
ax.set_yticks([])
ax.set_xticks([1, 2, 3, 4, 5], ['1', '2', '3', '4', '≥5'], fontsize=9, family=SANS)
ax.tick_params(length=2.5, width=.8, pad=0)
for sp in ax.spines.values():
    sp.set_color('#888888')
    sp.set_linewidth(1.2)
label(406, 1743, '# synapses', size=17)

px.add_patch(Rectangle((112.5, 985), 312.5, 39, fc='#90c4ff', ec='none'))
px.add_patch(Rectangle((427, 985), 274, 39, fc='#ffc890', ec='none'))
px.add_patch(Rectangle((66, 1031), 40, 311, fc='#90c4ff', ec='none'))
px.add_patch(Rectangle((66, 1347), 40, 274, fc='#ffc890', ec='none'))
px.plot([65, 107], [985, 1025], color='black', lw=1.3)
label(147, 956, 'Pre. (axon)', size=17)
label(31, 1096, 'Post. (dendrite)', size=17, rot=90)
label(278, 1007, 'modO', size=18.5, weight='bold')
label(562, 1007, 'modA', size=18.5, weight='bold')
label(88, 1185, 'N=223', size=18.5, weight='bold', rot=90)
label(88, 1471, 'N=196', size=18.5, weight='bold', rot=90)
label(48, 1648, 'ABD', size=18, weight='bold')
label(48, 1674, '(N=54)', size=12.5)
label(48, 1706, 'RS', size=18, weight='bold')
label(48, 1733, '(Large, N=4)', size=12.5)
for y0, y1 in [(1033, 1618), (1636, 1712)]:
    px.plot([730, 730], [y0, y1], color='black', lw=1.6)
    px.plot([725, 735], [y0, y0], color='black', lw=1.6)
    px.plot([725, 735], [y1, y1], color='black', lw=1.6)

# D
scale = 0.66
node_x = [778, 778, 1265, 1265, 1265, 1751, 1751, 1751, 1751, 1751]
node_top = [290, 551, 299.5, 439, 568, 222, 363, 485, 601, 718]
node_w = 6.5
src_off = [0.0] * len(NODE_NAMES)
tgt_off = [0.0] * len(NODE_NAMES)
node_in = np.zeros(len(NODE_NAMES))
node_out = np.zeros(len(NODE_NAMES))
for s, t, v in zip(LINK_SRC, LINK_TGT, LINK_VAL):
    node_out[s] += v
    node_in[t] += v
    h = v * scale
    x0 = node_x[s] + node_w
    x1 = node_x[t]
    xm = (x0 + x1) / 2
    y0 = node_top[s] + src_off[s]
    y1 = node_top[t] + tgt_off[t]
    src_off[s] += h
    tgt_off[t] += h
    verts = [(x0, y0), (xm, y0), (xm, y1), (x1, y1), (x1, y1 + h), (xm, y1 + h), (xm, y0 + h), (x0, y0 + h), (x0, y0)]
    codes = [Path.MOVETO, Path.CURVE4, Path.CURVE4, Path.CURVE4, Path.LINETO, Path.CURVE4, Path.CURVE4, Path.CURVE4, Path.CLOSEPOLY]
    thin = v <= 2
    px.add_patch(PathPatch(Path(verts, codes), fc='#cccccc', ec='#aaaaaa' if thin else 'none', lw=0.6 if thin else 0))
for i, name in enumerate(NODE_NAMES):
    h = max(node_in[i], node_out[i]) * scale
    px.add_patch(Rectangle((node_x[i], node_top[i]), node_w, h, fc=NODE_COLORS[i], ec='#888888', lw=0.6, zorder=3))
    last = node_x[i] > 1700
    label(node_x[i] - 5 if last else node_x[i] + node_w + 3, node_top[i] + h / 2 + 2, name, size=13, family='Open Sans',
          color='#2a3f5f', ha='right' if last else 'left', zorder=4,
          path_effects=[pe.withStroke(linewidth=2, foreground='white')])
for x, t, r in [(823, '2-block SBM', '0.997'), (1247, '3-block SBM', '0.984'), (1699, '5-block SBM', '0.963')]:
    label(x, 124, t, size=18, family=HEAD, weight='bold')
    label(x, 173, 'Rand Index = ' + r, size=15.6, family=HEAD)
label(747, 264, '196 cells', size=18, family=HEAD, ha='left')
label(747, 522, '223 cells', size=18, family=HEAD, ha='left')

# E
px.add_patch(Rectangle((1105, 911), 285, 790, fc='#f8f8f8', ec='none', zorder=0))
graph_x = [0, 78, 0, 124, 46, 124]
graph_y = [942, 942, 1010, 990, 1046, 1046]
styles = [
    {'x': 913, 'fill': '#bbbbbb', 'edge': '#666666', 's': ('#e8e8e8', 3.2), 'm': ('#e8e8e8', 2.4), 't': ('#bbbbbb', .8)},
    {'x': 1198, 'fill': '#8c8c8c', 'edge': 'black', 's': ('black', 2.6), 'm': ('#666666', 2), 't': ('#aaaaaa', .8)},
    {'x': 1496, 'fill': '#8c8c8c', 'edge': 'black', 's': ('black', 2.6), 'm': ('#555555', 1.8), 't': ('#eeeeee', .8)},
]
for st in styles:
    for a, b, rad, kind in EDGES:
        col, lw = st[kind]
        ms = 13 if kind == 's' else (11 if kind == 'm' else 8)
        px.add_patch(FancyArrowPatch((st['x'] + graph_x[a], graph_y[a]), (st['x'] + graph_x[b], graph_y[b]),
                                     connectionstyle='arc3,rad=%g' % rad, arrowstyle='-|>,head_length=0.7,head_width=0.35',
                                     mutation_scale=ms, color=col, lw=lw, shrinkA=9, shrinkB=9, zorder=2))
    for gx, gy in zip(graph_x, graph_y):
        px.add_patch(Ellipse((st['x'] + gx, gy), 23, 25, fc=st['fill'], ec=st['edge'], lw=2, zorder=3))

px.plot([1089, 1133], [991, 991], color='#666666', lw=3, ls=(0, (2.4, 2)))
px.plot([1081], [991], marker='<', ms=13, color='#666666', mec='none')
px.plot([1380, 1425], [991, 991], color='black', lw=3, ls=(0, (2.4, 2)))
px.plot([1433], [991], marker='>', ms=13, color='black', mec='none')

label(1360, 896, 'Only strong', size=15, family=HEAD, weight='bold', ha='left')
label(1360, 922, 'connections', size=15, family=HEAD, weight='bold', ha='left')
label(1267, 1105, 'full subgraph', size=15.5, family=HEAD, weight='bold')
label(1267, 1130, 'all connections', size=12.5, family=HEAD, weight='bold')
label(1555, 1105, 'strong subgraph', size=15.5, family=HEAD, weight='bold')
label(1555, 1130, '# of synapses ≥ 2', size=12.5, family=HEAD, weight='bold')
label(1269, 1222, 'Rand index = 0.997', size=15.5, family=HEAD)
label(1550, 1222, 'Rand index = 0.910', size=15.5, family=HEAD)
label(1422, 1756, 'Rand index = 0.972', size=15.5, family=HEAD, weight='bold')
label(773, 1325, 'Center subgraph', size=17, rot=90)
label(803, 1325, '(clustered)', size=17, rot=90)
label(773, 1678, '“Periphery”', size=17, rot=90)
label(803, 1678, '(unclustered)', size=17, rot=90)


def conf(box, vals, rows, faded):
    ax = ax_px(*box)
    flat = [v for r in vals for v in r]
    ax.imshow(vals, cmap='Greens', norm=Normalize(min(flat), max(flat)), aspect='auto', alpha=0.6 if faded else 1)
    edge = '#777777' if faded else 'black'
    for i in range(2):
        for j in range(2):
            ax.text(j, i, '%.3f' % vals[i][j], ha='center', va='center', fontsize=14.5, color='#e0e060' if faded else '#c4c400')
    ax.set_xticks([0, 1], COL_LABELS, fontsize=13.5, color=edge)
    ax.set_yticks([0, 1], rows, fontsize=13.5, color=edge)
    ax.tick_params(color=edge, length=5, width=1.3, pad=2)
    for sp in ax.spines.values():
        sp.set_color(edge)
        sp.set_linewidth(1.5)


top_boxes = [(898.6, 1246, 1084, 1432), (1179, 1246, 1365, 1432), (1467.6, 1246, 1653, 1432)]
bot_boxes = [(904, 1481.6, 1090, 1667), (1180, 1481.6, 1366, 1667), (1472, 1481.6, 1658, 1667)]
for i in range(3):
    conf(top_boxes[i], CONF_TOP[i], ROW_TOP, i == 0)
    conf(bot_boxes[i], CONF_BOT[i], ROW_BOT, i == 0)

px.plot([1003, 1003, 1265, 1265], [1697, 1729, 1729, 1714], color='#777777', lw=1.5)
px.plot([1277, 1277, 1566, 1566], [1714, 1731, 1731, 1706], color='black', lw=1.5)

cax = ax_px(1731.5, 1201, 1751, 1586)
cb = fig.colorbar(ScalarMappable(Normalize(0, 1), 'Greens'), cax=cax)
cb.set_ticks([])
cb.outline.set_edgecolor('#888888')
label(1761, 1277, 'high', size=10.5, family=SANS, rot=90)
label(1761, 1509, 'low', size=10.5, family=SANS, rot=90)
label(1738, 1156, '#Syn', size=36, family='Liberation Serif', color='#777777')
label(1722, 1166, '#p', size=28, family='Liberation Serif', color='#888888', style='italic')
label(1745, 1157, 'a.Syes', size=29, family='Liberation Serif', color='black')

fig.savefig('out.png', dpi=100)
